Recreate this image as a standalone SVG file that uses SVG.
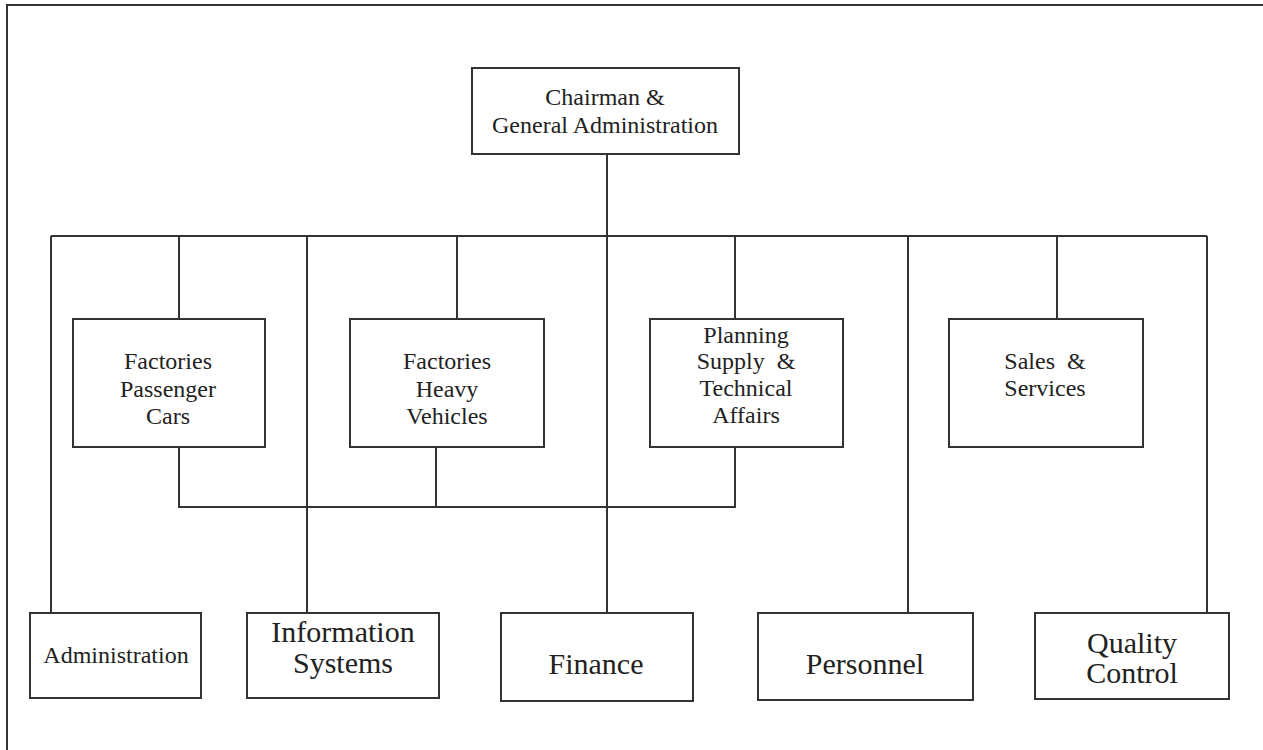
<svg xmlns="http://www.w3.org/2000/svg" width="1263" height="750" viewBox="0 0 1263 750">
<style>
.box{fill:#fff;stroke:#333;stroke-width:2}
.ln{fill:none;stroke:#333;stroke-width:2}
text{font-family:"Liberation Serif","Times New Roman",serif;fill:#222;text-anchor:middle}
.m{font-size:24px}
.l{font-size:30px}
</style>
<rect x="0" y="0" width="1263" height="750" fill="#fff"/>
<path class="ln" d="M7,752 V5 H1265"/>
<g id="connectors">
<path class="ln" d="M607,154 V612"/>
<path class="ln" d="M51,236 H1207"/>
<path class="ln" d="M51,236 V613"/>
<path class="ln" d="M179,236 V319"/>
<path class="ln" d="M307,236 V613"/>
<path class="ln" d="M457,236 V319"/>
<path class="ln" d="M735,236 V319"/>
<path class="ln" d="M908,236 V613"/>
<path class="ln" d="M1057,236 V319"/>
<path class="ln" d="M1207,236 V613"/>
<path class="ln" d="M179,447 V507 H735 V447"/>
<path class="ln" d="M436,447 V507"/>
</g>
<g id="chairman">
<rect class="box" x="472" y="68" width="267" height="86"/>
<text class="m" x="605" y="105">Chairman &amp;</text>
<text class="m" x="605" y="133">General Administration</text>
</g>
<g id="factories-passenger">
<rect class="box" x="73" y="319" width="192" height="128"/>
<text class="m" x="168" y="369">Factories</text>
<text class="m" x="168" y="397">Passenger</text>
<text class="m" x="168" y="424">Cars</text>
</g>
<g id="factories-heavy">
<rect class="box" x="350" y="319" width="194" height="128"/>
<text class="m" x="447" y="369">Factories</text>
<text class="m" x="447" y="397">Heavy</text>
<text class="m" x="447" y="424">Vehicles</text>
</g>
<g id="planning">
<rect class="box" x="650" y="319" width="193" height="128"/>
<text class="m" x="746" y="343">Planning</text>
<text class="m" x="746" y="369" xml:space="preserve">Supply  &amp;</text>
<text class="m" x="746" y="396">Technical</text>
<text class="m" x="746" y="423">Affairs</text>
</g>
<g id="sales">
<rect class="box" x="949" y="319" width="194" height="128"/>
<text class="m" x="1045" y="369" xml:space="preserve">Sales  &amp;</text>
<text class="m" x="1045" y="396">Services</text>
</g>
<g id="administration">
<rect class="box" x="30" y="613" width="171" height="85"/>
<text class="m" x="116" y="663">Administration</text>
</g>
<g id="information-systems">
<rect class="box" x="247" y="613" width="192" height="85"/>
<text class="l" x="343" y="642">Information</text>
<text class="l" x="343" y="673">Systems</text>
</g>
<g id="finance">
<rect class="box" x="501" y="613" width="192" height="88"/>
<text class="l" x="596" y="674">Finance</text>
</g>
<g id="personnel">
<rect class="box" x="758" y="613" width="215" height="87"/>
<text class="l" x="865" y="674">Personnel</text>
</g>
<g id="quality-control">
<rect class="box" x="1035" y="613" width="194" height="86"/>
<text class="l" x="1132" y="653">Quality</text>
<text class="l" x="1132" y="683">Control</text>
</g>
</svg>
